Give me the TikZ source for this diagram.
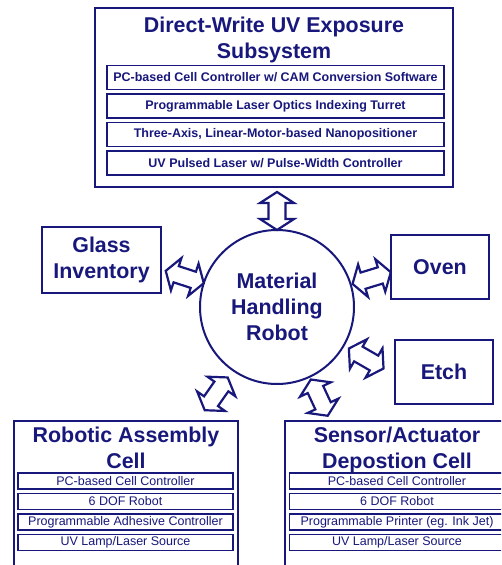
\documentclass[tikz,border=0pt]{standalone}
\usepackage{fontspec}
\setmainfont{Liberation Sans}
\usetikzlibrary{calc}
\definecolor{ink}{RGB}{24,24,124}

% block double arrow between two named points
\newcommand\arrowheadlen{11pt}
\newcommand\arrowheadhalf{17pt}
\newcommand\arrowshafthalf{8.5pt}
\newcommand\blockarrow[2]{%
  \draw[barrow] (#1)
    -- ($(#1)!\arrowheadlen!(#2)!\arrowheadhalf!90:(#2)$)
    -- ($(#1)!\arrowheadlen!(#2)!\arrowshafthalf!90:(#2)$)
    -- ($(#2)!\arrowheadlen!(#1)!\arrowshafthalf!-90:(#1)$)
    -- ($(#2)!\arrowheadlen!(#1)!\arrowheadhalf!-90:(#1)$)
    -- (#2)
    -- ($(#2)!\arrowheadlen!(#1)!\arrowheadhalf!90:(#1)$)
    -- ($(#2)!\arrowheadlen!(#1)!\arrowshafthalf!90:(#1)$)
    -- ($(#1)!\arrowheadlen!(#2)!\arrowshafthalf!-90:(#2)$)
    -- ($(#1)!\arrowheadlen!(#2)!\arrowheadhalf!-90:(#2)$)
    -- cycle;}

\tikzset{
  frame/.style={draw=ink, line width=2.6pt, inner sep=0pt, text=ink},
  bigtext/.style={text=ink, font=\fontsize{21.4}{26}\selectfont\bfseries,
    align=center, inner sep=0pt},
  topitem/.style={draw=ink, line width=1.8pt, inner sep=0pt, text=ink,
    minimum width=337pt, minimum height=24pt,
    font=\fontsize{12.5}{14}\selectfont\bfseries},
  cellitem/.style={draw=ink, line width=1.8pt, inner sep=0pt, text=ink,
    minimum width=215pt, minimum height=16pt,
    font=\fontsize{12.5}{14}\selectfont},
  barrow/.style={draw=ink, line width=2.2pt, line join=miter, fill=white},
}

\begin{document}
\begin{tikzpicture}[x=1pt, y=-1pt]
\useasboundingbox (0,0) rectangle (501,565);
\clip (0,0) rectangle (501,565);
\fill[white] (0,0) rectangle (501,565);

% exposure subsystem
\node[frame, minimum width=358pt, minimum height=179pt] (uv) at (274,97.5) {};
\node[bigtext] (uvtitle) at (274,39.5) {Direct-Write UV Exposure\\Subsystem};
\node[topitem] (uv1) at (275.5,77.5) {PC-based Cell Controller w/ CAM Conversion Software};
\node[topitem] (uv2) at (275.5,106) {Programmable Laser Optics Indexing Turret};
\node[topitem] (uv3) at (275.5,134.5) {Three-Axis, Linear-Motor-based Nanopositioner};
\node[topitem] (uv4) at (275.5,163) {UV Pulsed Laser w/ Pulse-Width Controller};

% central robot
\node[draw=ink, line width=2pt, circle, minimum size=154pt, inner sep=0pt,
  bigtext] (robot) at (277,307) {Material\\Handling\\Robot};

% side stations
\node[frame, bigtext, minimum width=119pt, minimum height=66pt] (glass) at (101.5,260) {Glass\\Inventory};
\node[frame, bigtext, minimum width=98pt, minimum height=64pt] (oven) at (440,267) {Oven};
\node[frame, bigtext, minimum width=98pt, minimum height=64pt] (etch) at (444,372) {Etch};

% assembly cell
\node[frame, minimum width=224pt, minimum height=200pt] (asm) at (126,521) {};
\node[bigtext] (asmtitle) at (126,448) {Robotic Assembly\\Cell};
\node[cellitem] (asm1) at (125.5,481) {PC-based Cell Controller};
\node[cellitem] (asm2) at (125.5,501.5) {6 DOF Robot};
\node[cellitem] (asm3) at (125.5,522) {Programmable Adhesive Controller};
\node[cellitem] (asm4) at (125.5,542.5) {UV Lamp/Laser Source};

% deposition cell
\node[frame, minimum width=224pt, minimum height=200pt] (dep) at (397,521) {};
\node[bigtext] (deptitle) at (397,450) {Sensor/Actuator\\Depostion Cell};
\node[cellitem] (dep1) at (397,481) {PC-based Cell Controller};
\node[cellitem] (dep2) at (397,501.5) {6 DOF Robot};
\node[cellitem] (dep3) at (397,522) {Programmable Printer (eg. Ink Jet)};
\node[cellitem] (dep4) at (397,542.5) {UV Lamp/Laser Source};

% arrow end points around the robot
\coordinate (uvin)    at ($(robot.center)!77pt!(robot.90)$);
\coordinate (uvout)   at ($(robot.center)!115pt!(robot.90)$);
\coordinate (glin)    at ($(robot.center)!77pt!(robot.162)$);
\coordinate (glout)   at ($(robot.center)!117pt!(robot.162)$);
\coordinate (ovin)    at ($(robot.center)!79pt!(robot.17)$);
\coordinate (ovout)   at ($(robot.center)!119pt!(robot.17)$);
\coordinate (etin)    at ($(robot.center)!83pt!(robot.-30)$);
\coordinate (etout)   at ($(robot.center)!123pt!(robot.-30)$);
\coordinate (asin)    at ($(robot.center)!86pt!(robot.-125)$);
\coordinate (asout)   at ($(robot.center)!126pt!(robot.-125)$);
\coordinate (dein)    at ($(robot.center)!80pt!(robot.-65)$);
\coordinate (deout)   at ($(robot.center)!120pt!(robot.-65)$);

\blockarrow{uvin}{uvout}
\blockarrow{glin}{glout}
\blockarrow{ovin}{ovout}
\blockarrow{etin}{etout}
\blockarrow{asin}{asout}
\blockarrow{dein}{deout}
\end{tikzpicture}
\end{document}
